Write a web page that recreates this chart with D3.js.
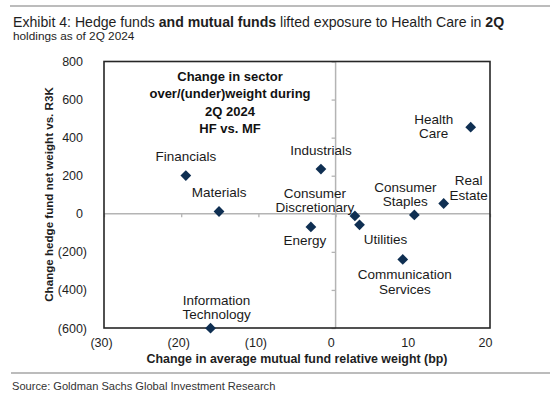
<!DOCTYPE html>
<html>
<head>
<meta charset="utf-8">
<script src="https://cdn.jsdelivr.net/npm/d3@7"></script>
<style>
  html, body { margin: 0; padding: 0; background: #fff; }
  svg { display: block; font-family: "Liberation Sans", Arial, sans-serif; }
</style>
</head>
<body>
<svg id="chart" width="550" height="397"></svg>
<script>
// sector data: x = change in avg mutual fund relative weight (bp), y = change in hedge fund net weight vs R3K
var sectors = ['Health Care', 'Industrials', 'Real Estate', 'Consumer Staples', 'Consumer Discretionary',
  'Utilities', 'Energy', 'Communication Services', 'Financials', 'Materials', 'Information Technology'];
var mfChange = [17.5, -1.9, 14.0, 10.2, 2.5, 3.1, -3.2, 8.7, -19.4, -15.1, -16.2];
var hfChange = [455, 235, 54, -6, -11, -58, -69, -240, 201, 12, -601];

var xTicks = [-30, -20, -10, 0, 10, 20];
var yTicks = [-600, -400, -200, 0, 200, 400, 600, 800];

// label placement around each point (offset of first line centre)
var labelPos = {
  'Health Care': [-37, -8],
  'Industrials': [0, -19],
  'Real Estate': [25, -23],
  'Consumer Staples': [-9, -28],
  'Consumer Discretionary': [-40, -23],
  'Utilities': [26, 14],
  'Energy': [-6, 13],
  'Communication Services': [2, 15],
  'Financials': [0, -19],
  'Materials': [0, -19],
  'Information Technology': [6, -28]
};
var twoLine = ['Health Care', 'Real Estate', 'Consumer Staples', 'Consumer Discretionary',
  'Communication Services', 'Information Technology'];

var svg = d3.select('#chart');

var x = d3.scaleLinear().domain([-30, 20]).range([104, 490]);
var y = d3.scaleLinear().domain([-600, 800]).range([328, 61.5]);

var fmt = function(d) { return d < 0 ? '(' + (-d) + ')' : '' + d; };

// header
svg.append('line').attr('x1', 10).attr('x2', 550).attr('y1', 6).attr('y2', 6)
  .attr('stroke', '#a6a6a6').attr('stroke-width', 1.5);

var title = svg.append('text').attr('x', 13).attr('y', 27)
  .attr('font-size', '14.1px').attr('fill', '#1e1e1e');
title.append('tspan').text('Exhibit 4: Hedge funds ');
title.append('tspan').attr('font-weight', 'bold').text('and mutual funds');
title.append('tspan').text(' lifted exposure to Health Care in ');
title.append('tspan').attr('font-weight', 'bold').text('2Q');

svg.append('text').attr('x', 13).attr('y', 39.5)
  .attr('font-size', '11.8px').attr('fill', '#1e1e1e')
  .text('holdings as of 2Q 2024');

// zero lines
svg.append('line').attr('x1', x(-30)).attr('x2', x(20)).attr('y1', y(0)).attr('y2', y(0))
  .attr('stroke', '#b4b4b4').attr('stroke-width', 1.5);
svg.append('line').attr('x1', x(0)).attr('x2', x(0)).attr('y1', y(800)).attr('y2', y(-600))
  .attr('stroke', '#b4b4b4').attr('stroke-width', 1.5);

// tick marks sitting on the zero lines
var xTickAxis = svg.append('g').attr('transform', 'translate(0,' + y(0) + ')')
  .call(d3.axisBottom(x).tickValues(xTicks).tickSize(3.5).tickFormat(''));
var yTickAxis = svg.append('g').attr('transform', 'translate(' + x(0) + ',0)')
  .call(d3.axisLeft(y).tickValues(yTicks).tickSize(4).tickFormat(''));
[xTickAxis, yTickAxis].forEach(function(g) {
  g.select('.domain').remove();
  g.selectAll('line').attr('stroke', '#b4b4b4').attr('stroke-width', 1.3);
});

// tick labels outside the plot
var yLab = svg.append('g').attr('transform', 'translate(87,0)')
  .call(d3.axisLeft(y).tickValues(yTicks).tickSize(0).tickPadding(0).tickFormat(fmt));
yLab.select('.domain').remove();
yLab.selectAll('text').attr('font-size', '12.5px').attr('fill', '#1e1e1e')
  .attr('font-family', null)
  .attr('x', function(d) { return d < 0 ? 0 : -4; });

var xLab = svg.append('g').attr('transform', 'translate(0,' + y(-600) + ')')
  .call(d3.axisBottom(x).tickValues(xTicks).tickSize(0).tickPadding(10).tickFormat(fmt));
xLab.select('.domain').remove();
xLab.selectAll('text').attr('font-size', '12.5px').attr('fill', '#1e1e1e')
  .attr('font-family', null)
  .attr('x', function(d) { return d < 0 ? -3 : -5; });

// plot border
svg.append('rect').attr('x', x(-30)).attr('y', y(800))
  .attr('width', x(20) - x(-30)).attr('height', y(-600) - y(800))
  .attr('fill', 'none').attr('stroke', '#262626').attr('stroke-width', 1.6);

// axis titles
svg.append('text').attr('x', 297).attr('y', 363)
  .attr('text-anchor', 'middle').attr('font-size', '12.4px').attr('font-weight', 'bold')
  .attr('fill', '#1e1e1e')
  .text('Change in average mutual fund relative weight (bp)');

svg.append('text')
  .attr('transform', 'translate(53,194.5) rotate(-90)')
  .attr('text-anchor', 'middle').attr('font-size', '11.6px').attr('font-weight', 'bold')
  .attr('fill', '#1e1e1e')
  .text('Change  hedge fund net weight vs. R3K');

// annotation box text
var note = ['Change in sector', 'over/(under)weight during', '2Q 2024', 'HF vs. MF'];
svg.append('g').selectAll('text').data(note).join('text')
  .attr('x', 230).attr('y', function(d, i) { return 80.7 + i * 17.4; })
  .attr('text-anchor', 'middle').attr('font-size', '13px').attr('font-weight', 'bold')
  .attr('fill', '#111')
  .text(function(d) { return d; });

// points
var pts = sectors.map(function(s, i) { return { name: s, mf: mfChange[i], hf: hfChange[i] }; });

svg.append('g').selectAll('path').data(pts).join('path')
  .attr('d', d3.symbol().type(d3.symbolSquare).size(58))
  .attr('transform', function(d) { return 'translate(' + x(d.mf) + ',' + y(d.hf) + ') rotate(45)'; })
  .attr('fill', '#0f2f52');

// point labels
var labels = svg.append('g').selectAll('text').data(pts).join('text')
  .attr('text-anchor', 'middle').attr('font-size', '13.5px').attr('fill', '#1a1a1a');
labels.each(function(d) {
  var off = labelPos[d.name];
  var lines = twoLine.indexOf(d.name) >= 0 ? d.name.split(' ') : [d.name];
  var t = d3.select(this);
  lines.forEach(function(ln, i) {
    t.append('tspan')
      .attr('x', x(d.mf) + off[0])
      .attr('y', y(d.hf) + off[1] + i * 14.5 + 4.7)
      .text(ln);
  });
});

// footer
svg.append('line').attr('x1', 11).attr('x2', 550).attr('y1', 373).attr('y2', 373)
  .attr('stroke', '#a6a6a6').attr('stroke-width', 1.5);
svg.append('text').attr('x', 12).attr('y', 390)
  .attr('font-size', '11.1px').attr('fill', '#333')
  .text('Source: Goldman Sachs Global Investment Research');
</script>
</body>
</html>
